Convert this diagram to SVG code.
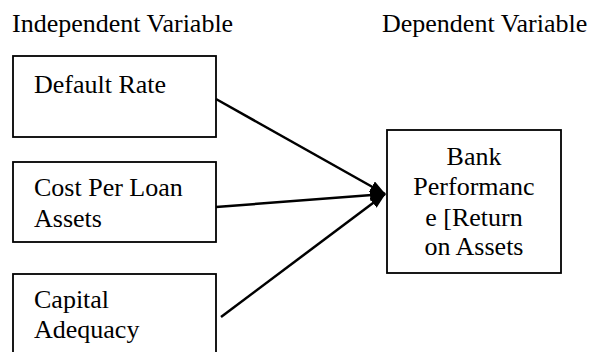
<svg xmlns="http://www.w3.org/2000/svg" width="596" height="352" viewBox="0 0 596 352">
<style>
text{font-family:"Liberation Serif","Times New Roman",serif;font-size:26px;fill:#000}
.box{fill:#fff;stroke:#000;stroke-width:1.8}
.conn{stroke:#000;stroke-width:2.5;fill:none}
</style>
<defs>
<marker id="ah" viewBox="0 0 16 12" refX="15" refY="6" markerWidth="16" markerHeight="12" orient="auto" markerUnits="userSpaceOnUse">
<path d="M0,0 L16,6 L0,12 Z" fill="#000"/>
</marker>
</defs>
<text x="12" y="32">Independent Variable</text>
<text x="382" y="32">Dependent Variable</text>
<g id="n1"><rect class="box" x="13" y="56" width="203" height="81"/><text x="34" y="93">Default Rate</text></g>
<g id="n2"><rect class="box" x="13" y="162" width="203" height="80"/><text x="34" y="196">Cost Per Loan</text><text x="34" y="227">Assets</text></g>
<g id="n3"><rect class="box" x="13" y="274" width="203" height="90"/><text x="34" y="308">Capital</text><text x="34" y="338">Adequacy</text></g>
<g id="n4"><rect class="box" x="387" y="130" width="174" height="143"/>
<text text-anchor="middle"><tspan x="474" y="165">Bank</tspan><tspan x="474" y="195">Performanc</tspan><tspan x="474" y="226">e [Return</tspan><tspan x="474" y="255">on Assets</tspan></text></g>
<g id="connectors">
<line class="conn" x1="216" y1="99" x2="385" y2="194" marker-end="url(#ah)"/>
<line class="conn" x1="216" y1="207" x2="385" y2="194" marker-end="url(#ah)"/>
<line class="conn" x1="221" y1="317" x2="385" y2="194" marker-end="url(#ah)"/>
</g>
</svg>
